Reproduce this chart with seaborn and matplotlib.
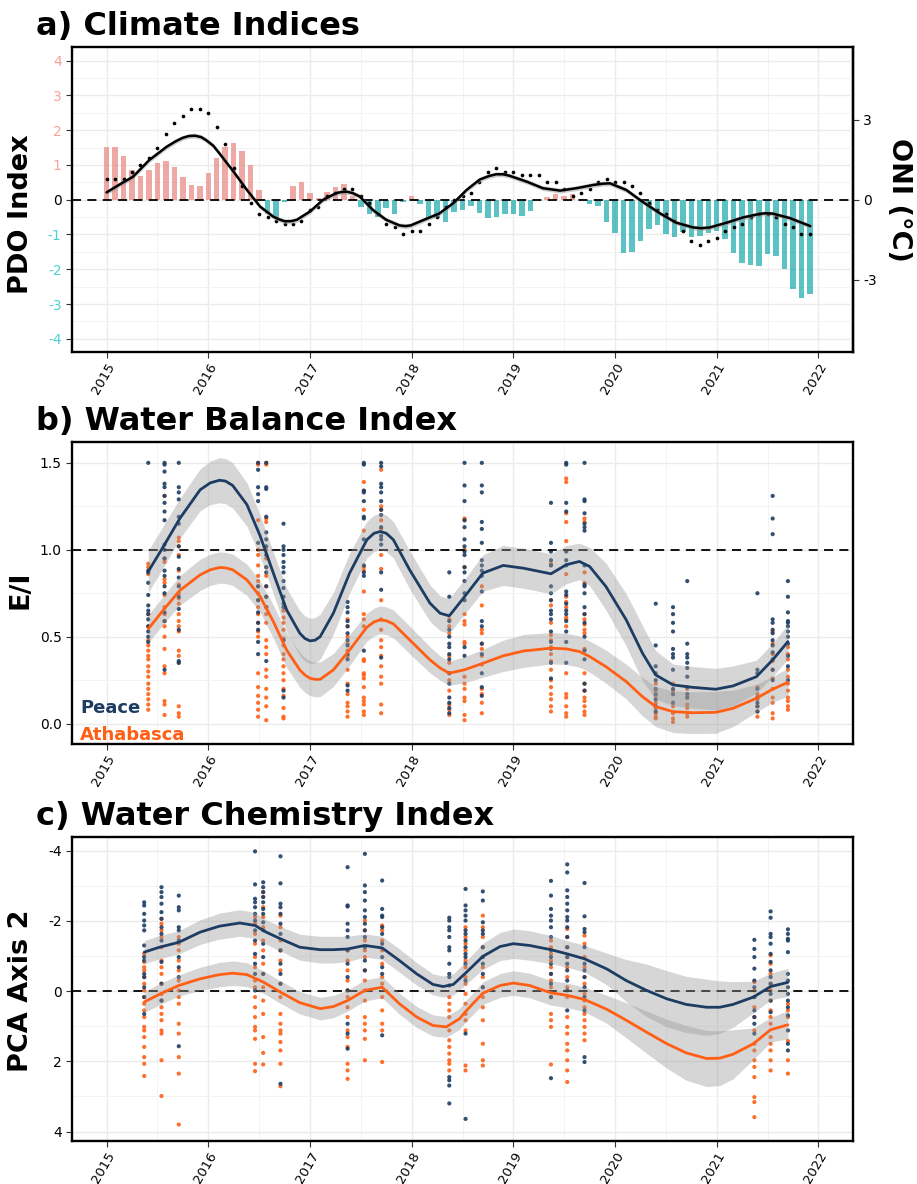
import numpy as np
import pandas as pd
import matplotlib
matplotlib.use("Agg")
import matplotlib.pyplot as plt
from matplotlib.ticker import FixedLocator
import seaborn as sns

sns.set_style("white")
plt.rcParams['font.family'] = ['DejaVu Sans']
plt.rcParams['axes.unicode_minus'] = False
plt.rcParams['text.color'] = 'black'
plt.rcParams['axes.labelcolor'] = 'black'
plt.rcParams['xtick.color'] = 'black'
plt.rcParams['ytick.color'] = 'black'

# ---------------- Panel a: climate indices (monthly) ----------------
years = [2015, 2016, 2017, 2018, 2019, 2020, 2021]
pdo_by_year = [
    [1.51, 1.51, 1.25, 0.84, 0.68, 0.84, 1.06, 1.12, 0.93, 0.66, 0.43, 0.40],
    [0.77, 1.20, 1.52, 1.63, 1.40, 1.01, 0.27, -0.40, -0.50, -0.08, 0.39, 0.51],
    [0.18, 0.05, 0.21, 0.36, 0.44, 0.12, -0.22, -0.40, -0.49, -0.25, -0.41, -0.08],
    [0.10, -0.12, -0.52, -0.52, -0.63, -0.36, -0.30, -0.18, -0.38, -0.53, -0.49, -0.40],
    [-0.42, -0.47, -0.33, -0.02, 0.08, 0.16, 0.10, 0.16, 0.01, -0.13, -0.18, -0.63],
    [-0.95, -1.52, -1.50, -1.19, -0.85, -0.73, -1.00, -1.08, -0.92, -1.06, -1.04, -0.97],
    [-0.90, -1.12, -1.52, -1.83, -1.88, -1.91, -1.55, -1.61, -1.98, -2.58, -2.84, -2.71],
]
oni_by_year = [
    [0.6, 0.6, 0.6, 0.8, 1.0, 1.2, 1.5, 1.9, 2.2, 2.4, 2.6, 2.6],
    [2.5, 2.1, 1.6, 0.9, 0.4, -0.1, -0.4, -0.5, -0.6, -0.7, -0.7, -0.6],
    [-0.3, -0.2, 0.1, 0.2, 0.3, 0.3, 0.1, -0.1, -0.4, -0.7, -0.8, -1.0],
    [-0.9, -0.9, -0.7, -0.5, -0.2, 0.0, 0.1, 0.2, 0.5, 0.8, 0.9, 0.8],
    [0.8, 0.7, 0.7, 0.7, 0.5, 0.5, 0.3, 0.1, 0.2, 0.3, 0.5, 0.6],
    [0.5, 0.5, 0.4, 0.2, -0.1, -0.3, -0.4, -0.6, -0.9, -1.2, -1.3, -1.2],
    [-1.1, -0.9, -0.8, -0.7, -0.5, -0.4, -0.4, -0.5, -0.7, -0.8, -1.0, -1.0],
]
# smoothed ONI trend
oni_fit_t = [2015.0, 2015.13, 2015.26, 2015.42, 2015.59, 2015.68, 2015.75, 2015.81, 2015.87, 2015.93,
             2015.98, 2016.05, 2016.11, 2016.25, 2016.38,
             2016.51, 2016.64, 2016.70, 2016.75, 2016.81, 2016.87, 2017.0, 2017.13, 2017.26, 2017.31,
             2017.36, 2017.42, 2017.49, 2017.62,
             2017.75, 2017.88, 2017.94, 2017.99, 2018.12, 2018.27, 2018.41, 2018.54, 2018.67, 2018.76,
             2018.83, 2018.90, 2018.96,
             2019.13, 2019.29, 2019.46, 2019.62, 2019.78, 2019.88, 2019.95, 2020.11, 2020.27, 2020.44, 2020.60,
             2020.77, 2020.85, 2020.93, 2021.10, 2021.26, 2021.42, 2021.48, 2021.55, 2021.72, 2021.92]
oni_fit_y = [0.21, 0.44, 0.66, 1.14, 1.52, 1.68, 1.78, 1.83, 1.84, 1.80,
             1.71, 1.55, 1.33, 0.80, 0.28,
             -0.20, -0.49, -0.57, -0.62, -0.62, -0.58, -0.34, 0.0, 0.19, 0.22,
             0.23, 0.19, 0.09, -0.30,
             -0.58, -0.74, -0.76, -0.74, -0.58, -0.40, -0.10, 0.28, 0.58, 0.68,
             0.73, 0.73, 0.69,
             0.52, 0.33, 0.26, 0.33, 0.42, 0.46, 0.47, 0.28, -0.06, -0.39, -0.66,
             -0.80, -0.82, -0.80, -0.66, -0.51, -0.41, -0.39, -0.40, -0.53, -0.76]
oni_fit_se = 0.07
oni_axis_scale = 1.304

# ---------------- Panel b: water balance (E/I) ----------------
b_dates = [2015.41, 2015.57, 2015.71, 2016.49, 2016.57, 2016.74, 2017.37, 2017.53, 2017.70,
           2018.37, 2018.52, 2018.69, 2019.37, 2019.52, 2019.70, 2020.40, 2020.57, 2020.71,
           2021.40, 2021.55, 2021.70]
b_peace = [
    [1.50, 0.88, 0.87, 0.81, 0.74, 0.68, 0.65, 0.63, 0.60, 0.56, 0.53, 0.50, 0.47],
    [1.50, 1.49, 1.45, 1.38, 1.36, 1.31, 1.27, 1.22, 1.17, 1.03, 1.00, 0.95, 0.88, 0.85, 0.79, 0.75, 0.64, 0.59, 0.31],
    [1.50, 1.36, 1.33, 1.29, 1.19, 1.15, 1.02, 0.96, 0.89, 0.84, 0.79, 0.73, 0.66, 0.54, 0.36, 0.35],
    [1.50, 1.46, 1.36, 1.32, 1.28, 1.04, 0.79, 0.71, 0.64, 0.58, 0.54, 0.47, 0.40],
    [1.50, 1.36, 1.35, 1.19, 1.10, 1.06, 1.02, 0.97, 0.90, 0.87, 0.79, 0.73, 0.67, 0.36],
    [1.15, 1.02, 1.00, 0.97, 0.93, 0.90, 0.87, 0.82, 0.78, 0.73, 0.69, 0.67, 0.48, 0.19, 0.15],
    [0.70, 0.67, 0.64, 0.59, 0.56, 0.52, 0.48, 0.45, 0.40, 0.37, 0.22, 0.19],
    [1.50, 1.49, 1.34, 1.33, 1.28, 1.19, 1.18, 1.06, 0.91, 0.87, 0.85, 0.42],
    [1.50, 1.48, 1.38, 1.36, 1.33, 1.28, 1.23, 1.20, 1.13, 1.08, 1.06, 1.03, 0.87, 0.77, 0.38],
    [0.87, 0.73, 0.59, 0.54, 0.50, 0.46, 0.44, 0.40, 0.37, 0.29, 0.23, 0.15, 0.12, 0.09, 0.06],
    [1.50, 1.37, 1.28, 1.17, 1.13, 1.06, 1.02, 0.99, 0.97, 0.90, 0.87, 0.82, 0.75, 0.71, 0.44, 0.39],
    [1.50, 1.37, 1.33, 1.16, 1.12, 1.04, 0.94, 0.91, 0.88, 0.85, 0.76, 0.59, 0.56, 0.46, 0.40, 0.29, 0.21, 0.16],
    [1.27, 1.04, 0.99, 0.94, 0.91, 0.79, 0.75, 0.71, 0.65, 0.63, 0.60, 0.53, 0.47, 0.43, 0.35, 0.26],
    [1.50, 1.49, 1.27, 1.22, 0.99, 0.94, 0.91, 0.76, 0.74, 0.69, 0.65, 0.63, 0.59, 0.53, 0.47, 0.35],
    [1.50, 1.29, 1.28, 1.21, 1.15, 1.13, 1.11, 0.91, 0.80, 0.79, 0.75, 0.67, 0.63, 0.58, 0.50, 0.42, 0.37, 0.23, 0.19],
    [0.69, 0.45, 0.33, 0.29, 0.25, 0.20, 0.17, 0.14, 0.10, 0.07],
    [0.67, 0.63, 0.58, 0.53, 0.43, 0.40, 0.38, 0.31, 0.20, 0.17, 0.12],
    [0.82, 0.46, 0.40, 0.38, 0.35, 0.32, 0.27, 0.21, 0.17, 0.15],
    [0.75, 0.31, 0.29, 0.20, 0.15, 0.12, 0.10, 0.07],
    [1.31, 1.18, 1.09, 0.60, 0.58, 0.54, 0.52, 0.48, 0.45, 0.41, 0.37, 0.31, 0.25],
    [0.82, 0.73, 0.64, 0.59, 0.58, 0.56, 0.53, 0.50, 0.46, 0.39, 0.33, 0.25],
]
b_athabasca = [
    [0.92, 0.90, 0.86, 0.63, 0.56, 0.48, 0.45, 0.42, 0.39, 0.37, 0.33, 0.30, 0.27, 0.23, 0.20, 0.17, 0.14, 0.11, 0.08],
    [1.31, 0.95, 0.93, 0.83, 0.81, 0.74, 0.67, 0.63, 0.59, 0.56, 0.50, 0.43, 0.33, 0.29, 0.13, 0.11, 0.05],
    [1.07, 1.05, 1.02, 0.97, 0.88, 0.80, 0.75, 0.72, 0.69, 0.63, 0.59, 0.56, 0.53, 0.42, 0.39, 0.35, 0.10, 0.06, 0.04],
    [1.50, 1.49, 1.17, 1.00, 0.97, 0.91, 0.85, 0.82, 0.79, 0.75, 0.71, 0.67, 0.63, 0.58, 0.53, 0.50, 0.29, 0.21, 0.16, 0.12, 0.08, 0.04],
    [1.50, 1.49, 1.18, 1.16, 1.00, 0.95, 0.90, 0.85, 0.79, 0.73, 0.67, 0.63, 0.58, 0.48, 0.44, 0.40, 0.31, 0.27, 0.20, 0.15, 0.10, 0.02],
    [0.65, 0.61, 0.58, 0.54, 0.49, 0.45, 0.40, 0.37, 0.33, 0.29, 0.25, 0.20, 0.16, 0.09, 0.04, 0.03],
    [0.60, 0.56, 0.50, 0.46, 0.42, 0.39, 0.31, 0.23, 0.17, 0.12, 0.10, 0.07, 0.04],
    [1.39, 1.34, 1.23, 1.11, 0.90, 0.88, 0.76, 0.63, 0.60, 0.56, 0.37, 0.36, 0.29, 0.28, 0.26, 0.21, 0.15, 0.13, 0.11, 0.07, 0.05],
    [1.46, 1.25, 1.23, 1.17, 1.12, 0.97, 0.89, 0.71, 0.60, 0.54, 0.48, 0.44, 0.39, 0.33, 0.27, 0.23, 0.11, 0.06],
    [0.60, 0.56, 0.52, 0.39, 0.35, 0.29, 0.25, 0.19, 0.11, 0.08, 0.05],
    [1.18, 1.17, 1.00, 0.90, 0.63, 0.59, 0.57, 0.47, 0.46, 0.27, 0.23, 0.20, 0.15, 0.13, 0.05, 0.02],
    [0.79, 0.68, 0.54, 0.52, 0.46, 0.43, 0.39, 0.34, 0.20, 0.17, 0.12, 0.06],
    [0.92, 0.71, 0.68, 0.58, 0.51, 0.48, 0.44, 0.40, 0.36, 0.31, 0.25, 0.21, 0.17, 0.14, 0.10, 0.07],
    [1.41, 1.39, 1.21, 1.16, 1.05, 0.86, 0.73, 0.70, 0.67, 0.61, 0.60, 0.56, 0.29, 0.17, 0.15, 0.10, 0.06, 0.04],
    [1.18, 1.16, 0.87, 0.81, 0.63, 0.60, 0.57, 0.54, 0.52, 0.43, 0.29, 0.23, 0.19, 0.15, 0.13, 0.10, 0.07, 0.05],
    [0.23, 0.19, 0.16, 0.12, 0.09, 0.06, 0.04, 0.03],
    [0.23, 0.19, 0.17, 0.12, 0.10, 0.06, 0.03, 0.01],
    [0.20, 0.17, 0.15, 0.11, 0.09, 0.06, 0.04],
    [0.21, 0.17, 0.14, 0.10, 0.07, 0.04],
    [0.53, 0.46, 0.40, 0.36, 0.31, 0.26, 0.20, 0.15, 0.12, 0.06, 0.03],
    [0.44, 0.40, 0.37, 0.31, 0.27, 0.23, 0.19, 0.15, 0.13, 0.10, 0.08],
]
b_fit_t = [2015.41, 2015.56, 2015.72, 2015.92, 2016.02, 2016.11, 2016.17, 2016.24, 2016.38, 2016.51, 2016.64, 2016.77,
           2016.90, 2016.95, 2017.0, 2017.05, 2017.10, 2017.23, 2017.39, 2017.56, 2017.63, 2017.69, 2017.75, 2017.82,
           2017.98, 2018.18, 2018.28,
           2018.37, 2018.52, 2018.70, 2018.90, 2019.10, 2019.37, 2019.52, 2019.65, 2019.75, 2019.91,
           2020.11, 2020.27, 2020.40, 2020.57, 2020.76, 2020.99, 2021.16, 2021.39, 2021.55, 2021.70]
b_fit_peace = [0.875, 1.02, 1.18, 1.345, 1.385, 1.40, 1.395, 1.37, 1.26, 1.08, 0.866, 0.655,
               0.52, 0.49, 0.476, 0.48, 0.50, 0.635, 0.866, 1.058, 1.095, 1.105, 1.095, 1.058,
               0.885, 0.693, 0.635,
               0.62, 0.73, 0.866, 0.91, 0.894, 0.862, 0.914, 0.933, 0.904, 0.789,
               0.597, 0.405, 0.28, 0.223, 0.209, 0.198, 0.217, 0.27, 0.367, 0.472]
b_se_peace = [0.12, 0.12, 0.115, 0.12, 0.125, 0.13, 0.13, 0.13, 0.125, 0.12, 0.12, 0.125,
              0.13, 0.13, 0.13, 0.13, 0.13, 0.12, 0.115, 0.105, 0.105, 0.105, 0.105, 0.105,
              0.11, 0.105, 0.10,
              0.10, 0.10, 0.105, 0.115, 0.115, 0.115, 0.11, 0.105, 0.11, 0.135,
              0.15, 0.16, 0.14, 0.12, 0.12, 0.12, 0.115, 0.095, 0.095, 0.10]
b_fit_athabasca = [0.545, 0.655, 0.766, 0.856, 0.885, 0.898, 0.896, 0.885, 0.827, 0.731, 0.587, 0.424,
                   0.309, 0.28, 0.261, 0.255, 0.255, 0.309, 0.424, 0.555, 0.585, 0.597, 0.592, 0.574,
                   0.482, 0.367, 0.32,
                   0.29, 0.31, 0.347, 0.39, 0.418, 0.434, 0.43, 0.415, 0.386, 0.328,
                   0.242, 0.155, 0.098, 0.069, 0.063, 0.065, 0.088, 0.146, 0.198, 0.238]
b_se_athabasca = [0.08, 0.08, 0.085, 0.09, 0.09, 0.09, 0.09, 0.09, 0.09, 0.09, 0.095, 0.10,
                  0.10, 0.10, 0.10, 0.10, 0.10, 0.095, 0.09, 0.08, 0.08, 0.08, 0.08, 0.08,
                  0.08, 0.075, 0.07,
                  0.07, 0.075, 0.08, 0.09, 0.095, 0.09, 0.09, 0.09, 0.09, 0.095,
                  0.10, 0.11, 0.115, 0.12, 0.12, 0.12, 0.105, 0.08, 0.075, 0.08]

# ---------------- Panel c: water chemistry (PCA axis 2) ----------------
c_dates = [2015.37, 2015.54, 2015.71, 2016.46, 2016.54, 2016.71, 2017.37, 2017.54, 2017.71,
           2018.37, 2018.53, 2018.70, 2019.37, 2019.53, 2019.70, 2021.37, 2021.53, 2021.70]
c_peace = [
    [-2.53, -2.44, -2.20, -2.01, -1.87, -1.73, -1.30, -0.97, -0.87, -0.49, -0.40, -0.11, 0.17, 0.65],
    [-2.96, -2.82, -2.68, -2.49, -2.25, -2.06, -1.82, -1.63, -1.44, -0.83, -0.21, 0.27],
    [-2.72, -2.39, -2.30, -1.82, -1.73, -1.44, -0.97, -0.68, -0.40, 1.57],
    [-3.98, -3.04, -2.63, -2.53, -2.39, -2.20, -2.01, -1.73, -1.44, -1.06, -0.78, -0.49, -0.02],
    [-3.10, -2.96, -2.82, -2.68, -2.53, -2.34, -2.20, -1.96, -1.73, -1.35, -0.97, -0.49],
    [-3.84, -3.07, -2.49, -2.39, -2.20, -1.92, -1.63, -1.16, -0.78, -0.49, -0.21, 2.64],
    [-3.53, -2.44, -2.41, -1.92, -1.73, -1.54, -1.16, -0.78, -0.40, -0.02, 0.93, 1.21, 1.64],
    [-3.91, -3.01, -2.82, -2.58, -2.30, -2.11, -1.92, -1.73, -1.54, -1.25, -0.87, -0.59],
    [-3.15, -2.34, -2.15, -2.11, -1.82, -1.63, -1.35, -0.97, -0.68, -0.49, 1.26],
    [-2.09, -2.01, -1.82, -1.73, -1.54, -1.25, -1.16, -0.78, -0.49, -0.40, -0.16, 2.45, 2.54, 2.69, 3.20],
    [-2.91, -2.44, -2.30, -2.15, -2.01, -1.73, -1.63, -1.44, -1.25, -1.06, -0.97, -0.78, -0.30, 1.21, 3.64],
    [-2.84, -2.58, -1.96, -1.73, -1.63, -1.25, -0.97, -0.78, -0.49, -0.11],
    [-3.14, -2.72, -2.34, -2.15, -2.01, -1.82, -1.54, -1.16, -0.97, -0.78, -0.49, -0.21, 0.17, 2.48],
    [-3.61, -3.38, -2.87, -2.68, -2.49, -2.30, -2.11, -2.01, -1.82, -1.54, -1.25, -0.97, -0.78, -0.59, -0.30, -0.02, 0.55],
    [-3.08, -2.13, -1.77, -1.68, -1.25, -0.78, -0.59, -0.40, -0.11, 0.17, 0.55, 1.88, 2.02],
    [-1.46, -1.20, -0.97, -0.64, -0.30, -0.11, 0.17, 0.55, 0.74, 0.93, 1.21],
    [-2.27, -2.09, -1.63, -1.54, -1.35, -1.06, -0.83, -0.59, -0.40, -0.21, 0.08, 0.27, 0.60],
    [-1.76, -1.63, -1.49, -1.44, -1.11, -0.49, -0.30, -0.11, 0.08, 0.27, 0.46, 0.69, 1.12, 1.50, 1.69],
]
c_athabasca = [
    [-1.06, -0.83, -0.68, -0.59, -0.40, -0.21, -0.02, 0.17, 0.36, 0.55, 0.74, 1.02, 1.12, 1.31, 1.59, 1.88, 2.07, 2.42],
    [-2.06, -1.92, -1.73, -1.54, -1.25, -0.87, -0.68, -0.49, -0.21, 0.08, 0.27, 0.46, 0.65, 0.83, 1.12, 1.21, 1.97, 2.99],
    [-1.54, -1.35, -1.16, -0.87, -0.59, -0.30, -0.02, 0.17, 0.36, 0.93, 1.21, 1.88, 2.35, 3.80],
    [-2.11, -1.92, -1.63, -1.35, -0.97, -0.68, -0.30, -0.11, 0.17, 0.46, 0.74, 1.02, 1.12, 1.36, 2.07, 2.28],
    [-2.82, -2.68, -2.39, -2.11, -1.82, -1.44, -1.16, -0.78, -0.49, -0.11, 0.27, 0.65, 1.31, 1.76, 2.09],
    [-2.15, -1.82, -1.44, -1.16, -0.87, -0.59, -0.21, 0.17, 0.65, 0.93, 1.12, 1.21, 1.45, 1.69, 2.07, 2.71],
    [-1.16, -0.87, -0.59, -0.30, -0.02, 0.17, 0.46, 0.74, 1.12, 1.31, 1.59, 2.07, 2.26, 2.50],
    [-2.01, -1.73, -1.44, -1.16, -0.97, -0.59, -0.30, -0.02, 0.27, 0.74, 0.93, 1.12, 1.36, 1.97],
    [-1.87, -1.73, -1.44, -1.16, -0.78, -0.40, -0.21, 0.17, 0.55, 0.93, 1.12, 2.02],
    [0.17, 0.36, 0.55, 0.74, 1.12, 1.40, 1.59, 1.78, 1.97, 2.07, 2.26],
    [-1.82, -1.54, -1.35, -1.16, -0.87, -0.68, -0.40, -0.21, 0.08, 0.36, 0.65, 0.83, 1.12, 2.12, 2.26],
    [-2.15, -1.82, -1.54, -1.25, -0.97, -0.68, -0.40, -0.11, 0.17, 0.46, 0.83, 1.50, 1.97, 2.12],
    [-1.44, -1.25, -1.06, -0.87, -0.68, -0.49, -0.30, -0.11, 0.17, 0.65, 0.83, 1.02, 2.09],
    [-1.77, -1.54, -1.25, -0.97, -0.68, -0.40, -0.11, 0.17, 0.74, 1.02, 1.21, 1.50, 1.69, 1.97, 2.26, 2.59],
    [-1.58, -1.35, -0.97, -0.68, -0.40, -0.21, 0.08, 0.27, 0.46, 0.65, 0.83, 1.02, 1.21, 1.40],
    [-0.26, -0.02, 0.17, 0.46, 0.74, 1.12, 1.50, 1.69, 1.97, 2.16, 2.45, 3.02, 3.16, 3.59],
    [-1.02, -0.78, -0.49, -0.21, -0.02, 0.27, 0.55, 0.74, 0.93, 1.31, 1.50, 1.69, 1.97, 2.26],
    [0.36, 0.55, 0.74, 1.42, 1.97, 2.35],
]
c_fit_t_peace = [2015.37, 2015.52, 2015.71, 2015.92, 2016.11, 2016.31, 2016.46, 2016.57, 2016.71, 2016.90,
                 2017.10, 2017.23, 2017.37, 2017.54, 2017.71, 2017.88, 2018.05, 2018.21, 2018.31, 2018.41,
                 2018.54, 2018.70, 2018.87, 2019.0, 2019.16, 2019.37, 2019.53, 2019.70, 2019.92, 2020.11,
                 2020.31, 2020.51, 2020.70, 2020.90, 2021.03, 2021.16, 2021.36, 2021.53, 2021.70]
c_fit_peace = [-1.11, -1.25, -1.39, -1.68, -1.85, -1.94, -1.87, -1.68, -1.49, -1.25,
               -1.18, -1.18, -1.20, -1.30, -1.23, -0.87, -0.49, -0.19, -0.13, -0.19,
               -0.54, -0.99, -1.27, -1.35, -1.30, -1.18, -1.06, -0.92, -0.63, -0.30,
               -0.02, 0.22, 0.38, 0.46, 0.46, 0.38, 0.17, -0.13, -0.25]
c_se_peace = [0.33, 0.33, 0.33, 0.35, 0.37, 0.38, 0.37, 0.35, 0.35, 0.37,
              0.38, 0.38, 0.36, 0.33, 0.33, 0.33, 0.32, 0.30, 0.30, 0.30,
              0.33, 0.37, 0.40, 0.42, 0.42, 0.40, 0.38, 0.38, 0.45, 0.60,
              0.75, 0.80, 0.80, 0.80, 0.75, 0.65, 0.45, 0.38, 0.40]
c_fit_t_athabasca = [2015.37, 2015.52, 2015.71, 2015.92, 2016.11, 2016.24, 2016.38, 2016.54, 2016.71, 2016.90,
                     2017.10, 2017.23, 2017.37, 2017.54, 2017.71, 2017.88, 2018.05, 2018.21, 2018.34, 2018.47,
                     2018.54, 2018.70, 2018.87, 2019.0, 2019.16, 2019.37, 2019.53, 2019.70, 2019.92, 2020.11,
                     2020.31, 2020.51, 2020.70, 2020.90, 2021.03, 2021.16, 2021.36, 2021.53, 2021.70]
c_fit_athabasca = [0.31, 0.09, -0.16, -0.35, -0.47, -0.51, -0.47, -0.26, 0.03, 0.33,
                   0.50, 0.44, 0.27, -0.02, -0.11, 0.36, 0.74, 0.98, 1.02, 0.79,
                   0.55, 0.06, -0.16, -0.23, -0.16, 0.05, 0.12, 0.24, 0.52, 0.83,
                   1.17, 1.50, 1.76, 1.92, 1.91, 1.80, 1.50, 1.10, 0.96]
c_se_athabasca = [0.30, 0.30, 0.30, 0.33, 0.35, 0.35, 0.34, 0.32, 0.32, 0.32,
                  0.32, 0.32, 0.30, 0.30, 0.30, 0.30, 0.30, 0.30, 0.30, 0.30,
                  0.30, 0.32, 0.34, 0.35, 0.35, 0.35, 0.35, 0.35, 0.40, 0.50,
                  0.60, 0.70, 0.78, 0.80, 0.78, 0.70, 0.45, 0.35, 0.40]

year_ticks = [2015, 2016, 2017, 2018, 2019, 2020, 2021, 2022]

# ---------------- styling constants ----------------
PINK, CYAN = "#F8766D", "#00BFC4"
PINK_LAB, CYAN_LAB = "#F9A19A", "#4DD2D6"
NAVY, ORANGE = "#1D3C63", "#FF5F15"
W, H = 917, 1184
XLIM = (2014.66, 2022.34)


def add_axes(top, bottom):
    return fig.add_axes([72 / W, 1 - bottom / H, 781 / W, (bottom - top) / H])


def set_xlabels(ax):
    ax.set_xticklabels([str(y) for y in year_ticks], rotation=60, ha="right",
                       va="top", rotation_mode="anchor", fontsize=9.5)


def style(ax, ymaj, ymin_, ylim):
    ax.set_xlim(XLIM)
    ax.set_ylim(ylim)
    ax.xaxis.set_major_locator(FixedLocator(year_ticks))
    ax.xaxis.set_minor_locator(FixedLocator([y + 0.5 for y in year_ticks]))
    ax.yaxis.set_major_locator(FixedLocator(ymaj))
    ax.yaxis.set_minor_locator(FixedLocator(ymin_))
    ax.grid(which="major", color="#EBEBEB", lw=1.0)
    ax.grid(which="minor", color="#F3F3F3", lw=0.7)
    ax.set_axisbelow(True)
    for s in ax.spines.values():
        s.set_visible(True)
        s.set_linewidth(1.7)
        s.set_color("black")
    ax.tick_params(which="major", length=4, width=0.8, color="#333333",
                   labelsize=10, labelcolor="black", direction="out", left=True, bottom=True)
    ax.tick_params(which="minor", length=0)
    ax.tick_params(axis="x", pad=2)
    set_xlabels(ax)
    ax.set_xlabel("")
    ax.set_ylabel("")


def campaign_frame(dates, peace, athabasca):
    rows = []
    for d, vals in zip(dates, athabasca):
        rows += [(d, v, "Athabasca") for v in vals]
    for d, vals in zip(dates, peace):
        rows += [(d, v, "Peace") for v in vals]
    return pd.DataFrame(rows, columns=["t", "value", "river"])


fig = plt.figure(figsize=(W / 100, H / 100), dpi=100)

# ======================= Panel a =======================
ax_a = add_axes(47, 352)
month_t = [y + m / 12 for y in years for m in range(12)]
pdo = [v for row in pdo_by_year for v in row]
oni = [v for row in oni_by_year for v in row]
df_a = pd.DataFrame({"t": month_t, "pdo": pdo, "oni": oni})
df_a["sign"] = np.where(df_a["pdo"] >= 0, "pos", "neg")

sns.barplot(data=df_a, x="t", y="pdo", hue="sign", palette={"pos": PINK, "neg": CYAN},
            native_scale=True, width=0.65, dodge=False, errorbar=None, alpha=0.7,
            linewidth=0, legend=False, ax=ax_a)
ax_a.axhline(0, color="black", lw=1.3, ls=(0, (5, 3.5)), zorder=3)
sns.scatterplot(data=df_a, x="t", y="oni", color="black", s=7, linewidth=0, ax=ax_a, zorder=4)
fa_t = np.array(oni_fit_t)
fa_y = np.array(oni_fit_y)
ax_a.fill_between(fa_t, fa_y - oni_fit_se, fa_y + oni_fit_se, color="#999999", alpha=0.5, lw=0, zorder=5)
sns.lineplot(x=fa_t, y=fa_y, color="black", lw=1.8, sort=False, estimator=None, ax=ax_a, zorder=6)

a_ticks = list(range(-4, 5))
style(ax_a, a_ticks, [v + 0.5 for v in range(-5, 5)], (-4.38, 4.39))
ax_a.set_yticks(a_ticks)
ax_a.set_yticklabels([str(v) for v in a_ticks])
for lab, v in zip(ax_a.get_yticklabels(), a_ticks):
    lab.set_color(PINK_LAB if v > 0 else (CYAN_LAB if v < 0 else "black"))
set_xlabels(ax_a)

sec = ax_a.secondary_yaxis("right", functions=(lambda v: v * oni_axis_scale,
                                               lambda v: v / oni_axis_scale))
sec.set_yticks([-3, 0, 3])
sec.set_yticklabels(["-3", "0", "3"])
sec.tick_params(length=4, width=0.8, color="#333333", labelsize=10, labelcolor="black", direction="out")
sec.spines["right"].set_linewidth(1.7)

# ======================= Panel b =======================
ax_b = add_axes(442, 744)
df_b = campaign_frame(b_dates, b_peace, b_athabasca)
sns.scatterplot(data=df_b, x="t", y="value", hue="river", palette={"Peace": NAVY, "Athabasca": ORANGE},
                s=9, linewidth=0, alpha=0.9, legend=False, ax=ax_b, zorder=2)
ax_b.axhline(1.0, color="black", lw=1.3, ls=(0, (5, 3.5)), zorder=3)
for fit, se in [(b_fit_peace, b_se_peace), (b_fit_athabasca, b_se_athabasca)]:
    t = np.array(b_fit_t); y = np.array(fit); e = np.array(se)
    ax_b.fill_between(t, y - e, y + e, color="#999999", alpha=0.4, lw=0, zorder=4)
for fit, col in [(b_fit_peace, NAVY), (b_fit_athabasca, ORANGE)]:
    sns.lineplot(x=np.array(b_fit_t), y=np.array(fit), color=col, lw=2.0, sort=False,
                 estimator=None, ax=ax_b, zorder=5)
style(ax_b, [0.0, 0.5, 1.0, 1.5], [0.25, 0.75, 1.25], (-0.117, 1.62))
ax_b.set_yticklabels(["0.0", "0.5", "1.0", "1.5"])
ax_b.text(0.0105, (744 - 713) / 302, "Peace", color=NAVY, fontsize=13, fontweight="bold",
          transform=ax_b.transAxes, va="baseline", ha="left", zorder=6)
ax_b.text(0.0105, (744 - 740) / 302, "Athabasca", color=ORANGE, fontsize=13, fontweight="bold",
          transform=ax_b.transAxes, va="baseline", ha="left", zorder=6)

# ======================= Panel c =======================
ax_c = add_axes(837, 1141)
df_c = campaign_frame(c_dates, c_peace, c_athabasca)
sns.scatterplot(data=df_c, x="t", y="value", hue="river", palette={"Peace": NAVY, "Athabasca": ORANGE},
                s=9, linewidth=0, alpha=0.9, legend=False, ax=ax_c, zorder=2)
ax_c.axhline(0.0, color="black", lw=1.3, ls=(0, (5, 3.5)), zorder=3)
for tt, fit, se in [(c_fit_t_peace, c_fit_peace, c_se_peace),
                    (c_fit_t_athabasca, c_fit_athabasca, c_se_athabasca)]:
    t = np.array(tt); y = np.array(fit); e = np.array(se)
    ax_c.fill_between(t, y - e, y + e, color="#999999", alpha=0.4, lw=0, zorder=4)
for tt, fit, col in [(c_fit_t_peace, c_fit_peace, NAVY), (c_fit_t_athabasca, c_fit_athabasca, ORANGE)]:
    sns.lineplot(x=np.array(tt), y=np.array(fit), color=col, lw=2.0, sort=False,
                 estimator=None, ax=ax_c, zorder=5)
style(ax_c, [-4, -2, 0, 2, 4], [-3, -1, 1, 3], (4.27, -4.39))
ax_c.set_yticklabels(["-4", "-2", "0", "2", "4"])

# ======================= titles and axis labels =======================
title_kw = dict(fontsize=23, fontweight="bold", ha="left", va="baseline", color="black")
fig.text(36 / W, 1 - 35 / H, "a) Climate Indices", **title_kw)
fig.text(36 / W, 1 - 430 / H, "b) Water Balance Index", **title_kw)
fig.text(36 / W, 1 - 825 / H, "c) Water Chemistry Index", **title_kw)

lab_kw = dict(fontsize=19.5, fontweight="bold", ha="center", va="center", color="black")
fig.text(21 / W, 1 - 214 / H, "PDO Index", rotation=90, **lab_kw)
fig.text(21 / W, 1 - 590 / H, "E/I", rotation=90, **lab_kw)
fig.text(21 / W, 1 - 991 / H, "PCA Axis 2", rotation=90, **lab_kw)
fig.text(899 / W, 1 - 199.5 / H, "ONI (°C)", rotation=270, **lab_kw)

fig.savefig("out.png", dpi=100)
